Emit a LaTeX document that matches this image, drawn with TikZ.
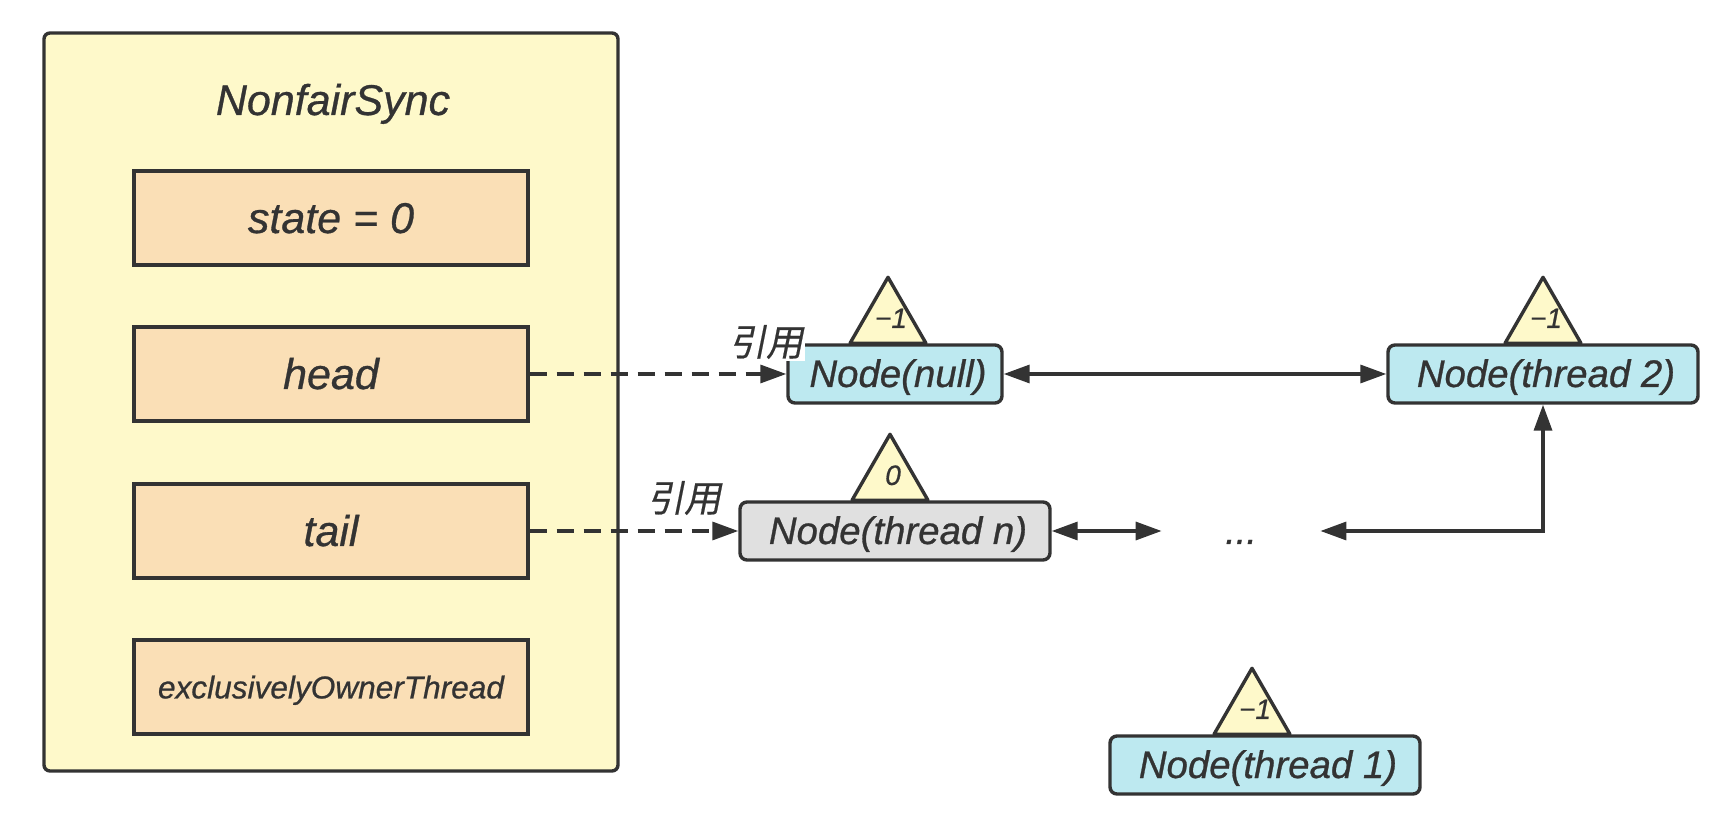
\documentclass[tikz,border=0pt]{standalone}
\usepackage{fontspec}
\setmainfont{Liberation Sans}[ItalicFeatures={FakeBold=0.7}]
\newfontfamily\cjkslant[FakeSlant=0.2,FakeBold=0.5]{Noto Sans CJK SC}
\usetikzlibrary{arrows.meta}
\definecolor{inkgray}{HTML}{333333}
\definecolor{syncyellow}{HTML}{FEF9CA}
\definecolor{fieldorange}{HTML}{FADFB6}
\definecolor{nodeblue}{HTML}{BDE9F0}
\definecolor{nodegray}{HTML}{E0E0E0}
\tikzset{
  outline/.style={draw=inkgray, line width=1.7pt},
  fieldbox/.style={outline, fill=fieldorange, minimum width=197pt, minimum height=47pt,
    inner sep=0pt, text height=17pt, text depth=2pt,
    font=\fontsize{21.5}{21.5}\selectfont\itshape, text=inkgray},
  queuenode/.style={outline, fill=nodeblue, rounded corners=3.5pt, minimum height=29pt,
    inner sep=0pt, text height=16pt, text depth=3pt, execute at begin node=\hspace*{3pt},
    font=\fontsize{19.2}{19.2}\selectfont\itshape, text=inkgray},
  waitmark/.style={inner sep=0pt, font=\fontsize{14}{14}\selectfont\itshape, text=inkgray},
  reflabel/.style={inner sep=1pt, font=\fontsize{18.5}{18.5}\cjkslant, text=inkgray},
  link/.style={draw=inkgray, line width=1.7pt,
    {Triangle[length=13pt,width=9pt]}-{Triangle[length=13pt,width=9pt]}},
  reflink/.style={draw=inkgray, line width=1.7pt, dash pattern=on 8.5pt off 5pt,
    -{Triangle[length=13pt,width=9pt,sep=0pt]}}
}
\begin{document}
\begin{tikzpicture}[x=0.5pt, y=-0.5pt]
  \useasboundingbox (0,0) rectangle (1728,822);

  % NonfairSync with its fields
  \draw[outline, fill=syncyellow, rounded corners=3pt] (44,33) rectangle (618,771);
  \node[inner sep=0pt, anchor=base, font=\fontsize{21.5}{21.5}\selectfont\itshape, text=inkgray] (sync) at (333,115) {NonfairSync};
  \node[fieldbox] (state) at (331,218) {state = 0};
  \node[fieldbox] (head) at (331,374) {head};
  \node[fieldbox] (tail) at (331,531) {tail};
  \node[fieldbox, text height=14pt, text depth=2.6pt, font=\fontsize{15.8}{15.8}\selectfont\itshape] (owner) at (331,687) {exclusivelyOwnerThread};

  % queue nodes
  \node[queuenode, minimum width=107pt] (nullnode) at (895,374) {Node(null)};
  \node[queuenode, minimum width=155pt] (threadtwo) at (1543,374) {Node(thread 2)};
  \node[queuenode, minimum width=155pt, fill=nodegray] (threadn) at (895,531) {Node(thread n)};
  \node[queuenode, minimum width=155pt] (threadone) at (1265,765) {Node(thread 1)};
  \node[inner sep=0pt, minimum width=79pt, minimum height=20pt, text height=16pt, text depth=3pt, text=inkgray,
        font=\fontsize{19}{19}\selectfont\itshape] (dots) at (1241,531) {...};

  % wait status triangles sitting on the queue nodes
  \foreach \p/\lbl/\off/\tx/\name in {nullnode/−1/-7/3/marknull, threadtwo/−1/0/3/marktwo,
                                      threadn/0/-5/3/markn, threadone/−1/-13/3/markone}
    {
      \coordinate (base) at ([xshift=\off*0.5pt]\p.north);
      \draw[outline, fill=syncyellow, line join=round]
        ([xshift=-19pt]base) -- ([yshift=33pt]base) -- ([xshift=19pt]base) -- cycle;
      \node[waitmark] (\name) at ([xshift=\tx*0.5pt, yshift=12.5pt]base) {\lbl};
    }

  % links
  \draw[reflink] (head.east) -- (nullnode.west);
  \draw[reflink] (tail.east) -- (threadn.west);
  \draw[link] (nullnode.east) -- (threadtwo.west);
  \draw[link] (threadn.east) -- (dots.west);
  \draw[link] (dots.east) -- (dots.east -| threadtwo.south) -- (threadtwo.south);

  \node[reflabel, fill=white] (headref) at (766,342) {引用};
  \node[reflabel] (tailref) at (684,498) {引用};
\end{tikzpicture}
\end{document}
